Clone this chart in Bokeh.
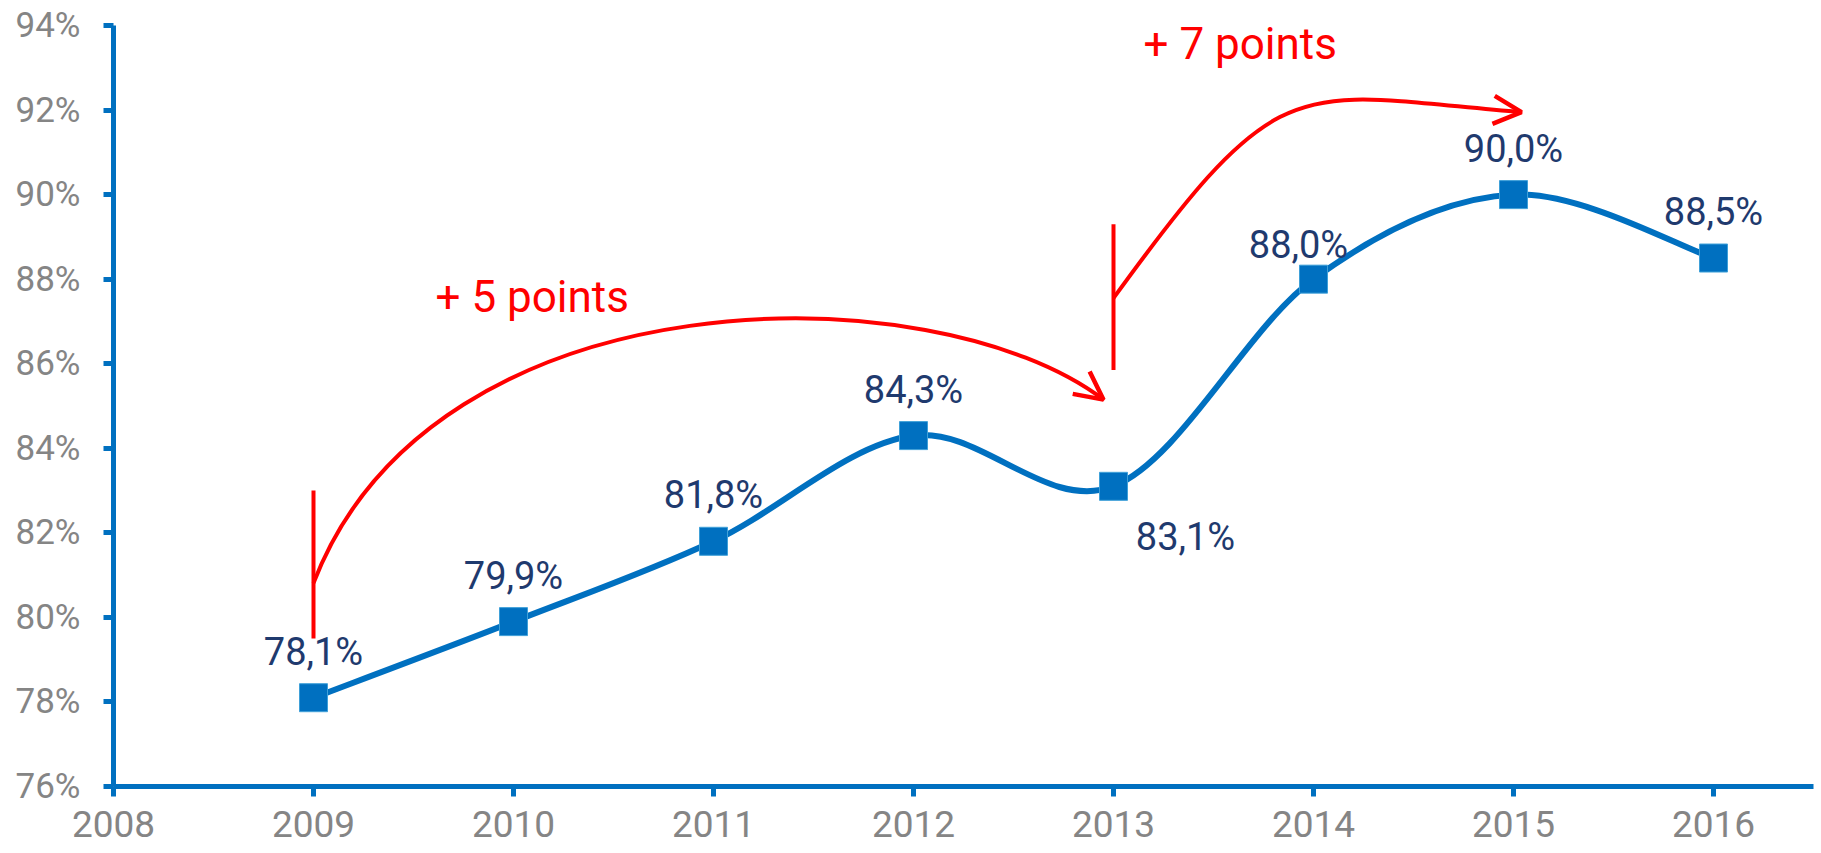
from bokeh.plotting import figure
from bokeh.models import Range1d, FixedTicker, Arrow, OpenHead, ColumnDataSource
from bokeh.core.properties import value
from bokeh.embed import file_html
from bokeh.resources import INLINE

# ---- data ----
years = [2009, 2010, 2011, 2012, 2013, 2014, 2015, 2016]
rates = [78.1, 79.9, 81.8, 84.3, 83.1, 88.0, 90.0, 88.5]
x_ticks = [2008, 2009, 2010, 2011, 2012, 2013, 2014, 2015, 2016]
y_ticks = [76, 78, 80, 82, 84, 86, 88, 90, 92, 94]
y_tick_labels = ["76%", "78%", "80%", "82%", "84%", "86%", "88%", "90%", "92%", "94%"]
point_labels = ["78,1%", "79,9%", "81,8%", "84,3%", "83,1%", "88,0%", "90,0%", "88,5%"]
annot_texts = ["+ 5 points", "+ 7 points"]

# ---- styles / placement ----
BLUE = "#0070C0"
NAVY = "#1F3A6E"
GRAY = "#858585"
RED = "#FF0000"
FONT = "Roboto"
label_dx = [0, 0, 0, 0, 72, -15, 0, 0]
label_dy = [-46, -46, -46, -46, 51, -34, -46, -46]

p = figure(width=1821, height=853, output_backend="svg", toolbar_location=None,
           x_range=Range1d(2008, 2016.5), y_range=Range1d(76, 94),
           min_border_left=113, min_border_right=8, min_border_top=25, min_border_bottom=67)
p.xgrid.visible = False
p.ygrid.visible = False
p.outline_line_color = None
p.background_fill_color = "white"

for ax in (p.xaxis, p.yaxis):
    ax.axis_line_color = BLUE
    ax.axis_line_width = 5
    ax.major_tick_line_color = BLUE
    ax.major_tick_line_width = 5
    ax.major_tick_out = 10
    ax.major_tick_in = 0
    ax.minor_tick_line_color = None
    ax.major_label_text_font = FONT
    ax.major_label_text_color = GRAY

p.xaxis.ticker = FixedTicker(ticks=x_ticks)
p.xaxis.major_label_text_font_size = "37px"
p.xaxis.major_label_standoff = 14
p.yaxis.ticker = FixedTicker(ticks=y_ticks)
p.yaxis.major_label_overrides = {t: l for t, l in zip(y_ticks, y_tick_labels)}
p.yaxis.major_label_text_font_size = "35px"
p.yaxis.major_label_standoff = 23

# ---- smoothed line (Catmull-Rom bezier through the data points) ----
n = len(years)
seg = dict(x0=[], y0=[], x1=[], y1=[], cx0=[], cy0=[], cx1=[], cy1=[])
for i in range(n - 1):
    a, b, c, d = max(i - 1, 0), i, i + 1, min(i + 2, n - 1)
    seg["x0"].append(years[b]); seg["y0"].append(rates[b])
    seg["x1"].append(years[c]); seg["y1"].append(rates[c])
    seg["cx0"].append(years[b] + (years[c] - years[a]) / 6)
    seg["cy0"].append(rates[b] + (rates[c] - rates[a]) / 6)
    seg["cx1"].append(years[c] - (years[d] - years[b]) / 6)
    seg["cy1"].append(rates[c] - (rates[d] - rates[b]) / 6)
p.bezier(source=ColumnDataSource(seg), x0="x0", y0="y0", x1="x1", y1="y1",
         cx0="cx0", cy0="cy0", cx1="cx1", cy1="cy1", line_color=BLUE, line_width=6)

src = ColumnDataSource(dict(x=years, y=rates, t=point_labels, dx=label_dx, dy=label_dy))
p.scatter("x", "y", source=src, marker="square", size=28, fill_color=BLUE,
          line_color="#3FA0D8", line_width=1)
p.text("x", "y", text="t", source=src, x_offset="dx", y_offset="dy",
       text_align="center", text_baseline="alphabetic",
       text_font=value(FONT), text_font_size="38px", text_color=NAVY)

# ---- red annotations ----
arcs = [
    dict(x0=years[0], y0=80.81, cx0=2009.6, cy0=88.2, cx1=2012.1, cy1=88.2, x1=2012.95, y1=85.15),
    dict(x0=years[4], y0=87.55, cx0=2013.85, cy0=93.1, cx1=2013.9, cy1=92.4, x1=2015.04, y1=91.95),
]
stems = [(years[0], 83.0, 79.5), (years[4], 89.3, 85.85)]
for arc, (sx, top, bot) in zip(arcs, stems):
    p.segment(x0=[sx], y0=[top], x1=[sx], y1=[bot], line_color=RED, line_width=4)
    p.bezier(x0=[arc["x0"]], y0=[arc["y0"]], x1=[arc["x1"]], y1=[arc["y1"]],
             cx0=[arc["cx0"]], cy0=[arc["cy0"]], cx1=[arc["cx1"]], cy1=[arc["cy1"]],
             line_color=RED, line_width=4)
    p.add_layout(Arrow(end=OpenHead(size=28, line_color=RED, line_width=4.5),
                       x_start=arc["cx1"], y_start=arc["cy1"], x_end=arc["x1"], y_end=arc["y1"],
                       line_alpha=0))

p.text(x=[2009.61, 2013.15], y=[87.57, 93.57], text=annot_texts,
       text_align="left", text_baseline="alphabetic",
       text_font=value(FONT), text_font_size="44px", text_color=RED)

open("out.html", "w").write(file_html(p, INLINE))
